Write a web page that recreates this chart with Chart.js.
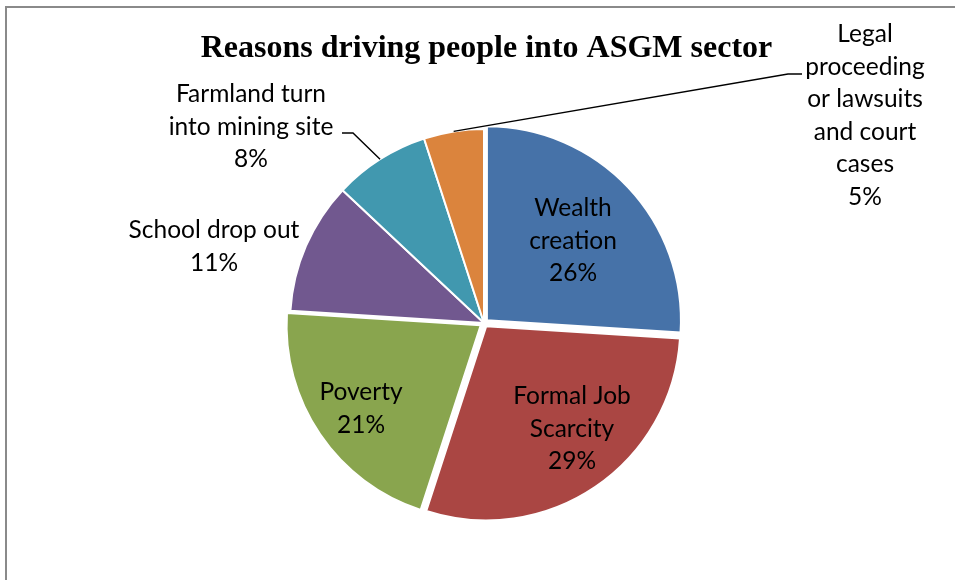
<!DOCTYPE html>
<html>
<head>
<meta charset="utf-8">
<script src="https://cdn.jsdelivr.net/npm/chart.js@4/dist/chart.umd.min.js"></script>
<style>
  html, body { margin: 0; padding: 0; background: #ffffff; }
  #wrap { width: 955px; height: 580px; position: relative; }
</style>
</head>
<body>
<div id="wrap"><canvas id="c" width="955" height="580"></canvas></div>
<script>
// ---- data ----
const chartTitle = 'Reasons driving people into ASGM sector';
const categories = [
  'Wealth creation',
  'Formal Job Scarcity',
  'Poverty',
  'School drop out',
  'Farmland turn into mining site',
  'Legal proceeding or lawsuits and court cases'
];
const values = [26, 29, 21, 11, 8, 5];
const labelLines = [
  ['Wealth', 'creation'],
  ['Formal Job', 'Scarcity'],
  ['Poverty'],
  ['School drop out'],
  ['Farmland turn', 'into mining site'],
  ['Legal', 'proceeding', 'or lawsuits', 'and court', 'cases']
];

// ---- styles / layout ----
const sliceColors = ['#4672A8', '#AA4643', '#89A54E', '#71588F', '#4198AF', '#DB843D'];
const sliceOffsets = [16, 16, 16, 0, 0, 0];   // Chart.js translates by offset/4
// label block: center x, first baseline y (page pixels)
const labelPos = [
  { x: 573, y: 216 },
  { x: 572, y: 404 },
  { x: 361, y: 400 },
  { x: 214, y: 238 },
  { x: 251, y: 102 },
  { x: 865, y: 42 }
];
// leader line bends/ends (only for outside labels)
const leaders = [null, null, null, null,
  [{ x: 353, y: 133 }, { x: 342, y: 133 }],
  [{ x: 788, y: 74 }, { x: 802, y: 74 }]
];
const LINE_H = 32.5;
const LABEL_FONT = '24.5px Lato, "Open Sans", sans-serif';

const overlay = {
  id: 'overlay',
  afterDraw(chart) {
    const ctx = chart.ctx;
    ctx.save();
    // frame (only left and top visible in crop)
    ctx.strokeStyle = '#8a8a8a';
    ctx.lineWidth = 2;
    ctx.beginPath();
    ctx.moveTo(6, 600);
    ctx.lineTo(6, 7);
    ctx.lineTo(960, 7);
    ctx.stroke();

    // title
    ctx.fillStyle = '#000';
    ctx.font = 'bold 32px "Liberation Serif", "Times New Roman", serif';
    ctx.textAlign = 'center';
    ctx.textBaseline = 'alphabetic';
    ctx.fillText(chartTitle, 486.5, 57);

    const meta = chart.getDatasetMeta(0);
    // leader lines
    ctx.strokeStyle = '#000';
    ctx.lineWidth = 1.4;
    meta.data.forEach((arc, i) => {
      if (!leaders[i]) return;
      const mid = (arc.startAngle + arc.endAngle) / 2;
      const off = (sliceOffsets[i] || 0) / 4;
      const sx = arc.x + Math.cos(mid) * (arc.outerRadius + off);
      const sy = arc.y + Math.sin(mid) * (arc.outerRadius + off);
      ctx.beginPath();
      ctx.moveTo(sx, sy);
      leaders[i].forEach(p => ctx.lineTo(p.x, p.y));
      ctx.stroke();
    });

    // labels
    ctx.fillStyle = '#000';
    ctx.font = LABEL_FONT;
    ctx.textAlign = 'center';
    ctx.textBaseline = 'alphabetic';
    const total = values.reduce((a, b) => a + b, 0);
    meta.data.forEach((arc, i) => {
      const lines = labelLines[i].concat([Math.round(values[i] / total * 100) + '%']);
      lines.forEach((t, k) => {
        ctx.fillText(t, labelPos[i].x, labelPos[i].y + k * LINE_H);
      });
    });
    ctx.restore();
  }
};

new Chart(document.getElementById('c'), {
  type: 'pie',
  data: {
    labels: categories,
    datasets: [{
      data: values,
      backgroundColor: sliceColors,
      borderColor: '#ffffff',
      borderWidth: 2,
      offset: sliceOffsets
    }]
  },
  options: {
    responsive: false,
    animation: false,
    radius: 194,
    layout: { padding: { left: 280, right: 267, top: 120, bottom: 54 } },
    plugins: {
      legend: { display: false },
      tooltip: { enabled: false },
      title: { display: false }
    }
  },
  plugins: [overlay]
});
</script>
</body>
</html>
